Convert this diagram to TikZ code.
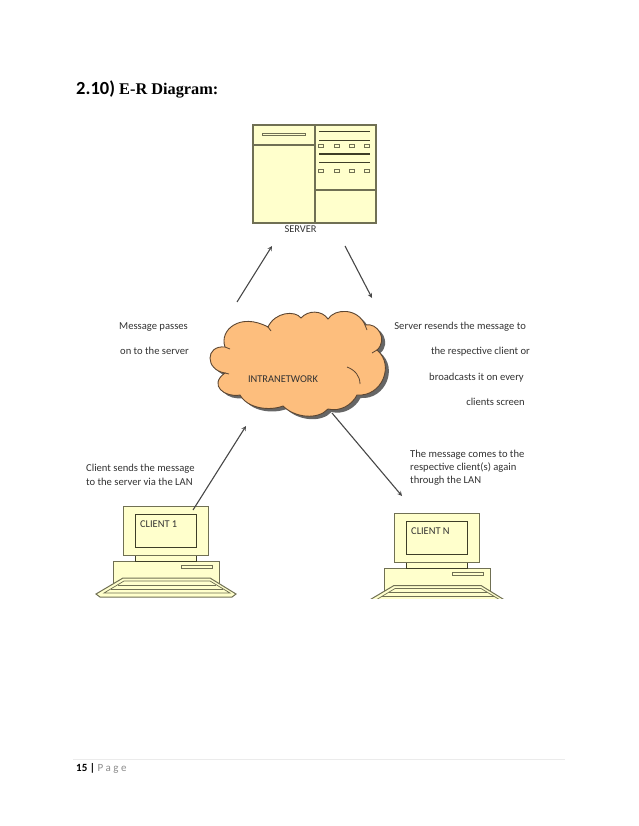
\documentclass[tikz,border=0pt]{standalone}
\usepackage{fontspec}
\setmainfont{Carlito}
\newfontfamily\titlefont{Liberation Serif}
\usetikzlibrary{arrows,positioning}
\definecolor{boxyellow}{RGB}{255,255,204}
\definecolor{boxedge}{RGB}{112,112,84}
\definecolor{boxdark}{RGB}{62,62,40}
\definecolor{cloudfill}{RGB}{253,190,125}
\definecolor{cloudedge}{RGB}{92,70,50}
\definecolor{labelgray}{RGB}{50,50,50}
\tikzstyle{arrow} = [line width=1.1pt,->,>=stealth,color=labelgray!90]
\tikzstyle{caption} = [font=\fontsize{10.6}{12}\selectfont, text=labelgray, inner sep=0pt]
\tikzstyle{tag} = [font=\fontsize{10.4}{12}\selectfont, text=labelgray, inner sep=0pt]
\tikzstyle{boxpart} = [draw=boxedge, fill=boxyellow, line width=1pt]
% one computer, drawn at the place of client 1
\newcommand{\computer}[3]{
\begin{scope}[shift={(#1,#2)}]
\filldraw[boxpart] (113,561) rectangle (219,596);
\filldraw[boxpart, line width=.7pt] (181,565) rectangle (212,568);
\filldraw[boxpart, draw=boxdark] (135,555) rectangle (196,561);
\filldraw[boxpart] (123,506) rectangle (208,555);
\filldraw[boxpart, draw=boxdark] (135,514) rectangle (196,547);
\filldraw[boxpart] (123,578) -- (210,578) -- (236,594) -- (232,597) -- (100,597) -- (96,594) -- cycle;
\draw[boxedge, line width=.7pt] (124,581) -- (210,581) -- (230,593) -- (104,593) -- cycle;
\draw[boxedge, line width=.7pt] (118,585) -- (216,585) (111,589) -- (223,589);
\node[tag, anchor=base west] (#3) at (140,527) {CLIENT #3};
\end{scope}
}
\newcommand{\cloudpath}{(225,347) .. controls (219,330) and (240,312) .. (268,327)
.. controls (275,312) and (295,310) .. (301,318)
.. controls (308,310) and (322,310) .. (328,319)
.. controls (335,308) and (358,308) .. (365,325)
.. controls (378,322) and (388,340) .. (377,350)
.. controls (395,365) and (382,397) .. (357,395)
.. controls (352,405) and (340,412) .. (328,409)
.. controls (318,420) and (295,418) .. (283,406)
.. controls (270,411) and (248,409) .. (240,395)
.. controls (225,398) and (208,385) .. (225,373)
.. controls (205,370) and (205,345) .. (225,347) -- cycle}

\begin{document}
\begin{tikzpicture}[x=1pt, y=-1pt]
\useasboundingbox (0,0) rectangle (638,826);

% Heading
\node (number) [anchor=base west, inner sep=0pt, font=\fontsize{18.5}{21}\selectfont\bfseries] at (76,94.5) {2.10)};
\node (heading) [anchor=base west, inner sep=0pt, font=\titlefont\fontsize{16.3}{18}\selectfont\bfseries] at (119,94.5) {E-R Diagram:};

% Server
\filldraw[boxpart, line width=1.2pt] (253,125) rectangle (376,223);
\draw[boxedge, line width=1.2pt] (315,125) -- (315,223) (253,145) -- (315,145) (315,190) -- (376,190);
\filldraw[boxpart, line width=.8pt] (262,133) rectangle (305,135.5);
\foreach \y in {131.5,140.5,154,162.5}
  \draw[boxdark, line width=1.2pt] (319,\y) -- (370,\y);
\foreach \y in {146,171}
  \foreach \x in {321,337,352,367}
    \filldraw[boxpart, line width=1.1pt] (\x-2.2,\y-1.7) rectangle (\x+2.2,\y+1.7);
\node (server) [tag] at (300.5,229) {SERVER};

% Cloud
\fill[black!60, shift={(3.5,3)}] \cloudpath;
\filldraw[fill=cloudfill, draw=cloudedge, line width=.9pt] \cloudpath;
\draw[cloudedge, line width=.8pt] (225,373) -- (229,374) (225,347) -- (230,349) (268,327) -- (271,331)
  (347,367) .. controls (355,370) and (360,376) .. (360,384)
  (377,350) -- (372,353) (365,325) -- (367,330);
\node (intranet) [tag] at (283,379) {INTRANETWORK};

% Clients
\computer{0}{0}{1}
\begin{scope}
\clip (360,500) rectangle (520,598);
\computer{271}{7.5}{N}
\end{scope}

% Arrows
\coordinate (a1) at (237,302);
\coordinate (a2) at (272,246);
\coordinate (b1) at (345,246);
\coordinate (b2) at (372,298);
\coordinate (c1) at (193,510);
\coordinate (c2) at (246,426);
\coordinate (d1) at (332,413);
\coordinate (d2) at (402,496);
\draw[arrow] (a1) -- (a2);
\draw[arrow] (b1) -- (b2);
\draw[arrow] (c1) -- (c2);
\draw[arrow] (d1) -- (d2);

% Captions
\node (passes1) [caption, anchor=base west] at (119,329) {Message passes};
\node (passes2) [caption, anchor=base west] at (120,354) {on to the server};
\node (resend1) [caption, anchor=base east] at (526,329) {Server resends the message to};
\node (resend2) [caption, anchor=base east] at (530,354) {the respective client or};
\node (resend3) [caption, anchor=base east] at (524,380) {broadcasts it on every};
\node (resend4) [caption, anchor=base east] at (525,405) {clients screen};
\node (comes1) [caption, anchor=base west] at (410,457) {The message comes to the};
\node (comes2) [caption, anchor=base west] at (410,470) {respective client(s) again};
\node (comes3) [caption, anchor=base west] at (410,483) {through the LAN};
\node (sends1) [caption, anchor=base west] at (86,471) {Client sends the message};
\node (sends2) [caption, anchor=base west] at (86,485) {to the server via the LAN};

% Footer
\coordinate (foot1) at (73,759);
\coordinate (foot2) at (565,759);
\draw[black!8, line width=1pt] (foot1) -- (foot2);
\node (page) [anchor=base west, inner sep=0pt, font=\fontsize{11}{13}\selectfont] at (76,771) {\textbf{15 |} \textcolor{black!45}{P a g e}};
\end{tikzpicture}
\end{document}
